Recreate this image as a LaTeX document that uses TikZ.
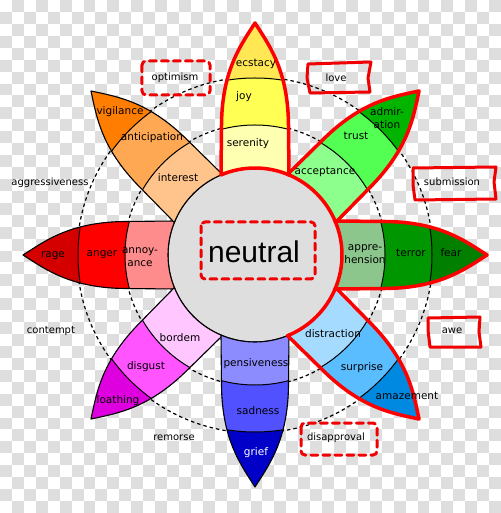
\documentclass[tikz,border=0pt]{standalone}
\usepackage{fontspec}
\setmainfont{DejaVu Sans}
\newfontfamily\neutralfont{Liberation Sans}
\definecolor{chk}{HTML}{DEDEDE}
\definecolor{hubgray}{HTML}{DEDEDE}
\definecolor{cSer}{HTML}{FFFFB1}\definecolor{cJoy}{HTML}{FFFF54}\definecolor{cEcs}{HTML}{FFE854}
\definecolor{cAcc}{HTML}{8CFF8C}\definecolor{cTru}{HTML}{54FF54}\definecolor{cAdm}{HTML}{00B400}
\definecolor{cApp}{HTML}{8CC68C}\definecolor{cTer}{HTML}{009600}\definecolor{cFea}{HTML}{007F00}
\definecolor{cDis}{HTML}{A5DBFF}\definecolor{cSur}{HTML}{59BDFF}\definecolor{cAma}{HTML}{0089E0}
\definecolor{cPen}{HTML}{8C8CFF}\definecolor{cSad}{HTML}{5151FF}\definecolor{cGri}{HTML}{0000C8}
\definecolor{cBor}{HTML}{FFC6FF}\definecolor{cDig}{HTML}{FF54FF}\definecolor{cLoa}{HTML}{DE00DE}
\definecolor{cAnn}{HTML}{FF8C8C}\definecolor{cAng}{HTML}{FF0000}\definecolor{cRag}{HTML}{D40000}
\definecolor{cInt}{HTML}{FFC48C}\definecolor{cAnt}{HTML}{FFA854}\definecolor{cVig}{HTML}{FF7D00}
\definecolor{annred}{HTML}{F00000}
\def\petalpath{(80.08,-34) -- (130,-33.5) .. controls (185,-33) and (210,-14) .. (232,0) .. controls (210,14) and (185,33) .. (130,33.5) -- (80.08,34) arc[start angle=23, end angle=-23, radius=87pt] -- cycle}
\begin{document}
\begin{tikzpicture}[x=1pt,y=1pt,
  lbl/.style={font=\fontsize{10.5}{12.5}\selectfont, inner sep=0pt, align=center},
  outer/.style={font=\fontsize{10}{12}\selectfont, inner sep=0pt},
  annot/.style={draw=annred, line width=3pt, line join=round, line cap=round},
  annotdash/.style={annot, dash pattern=on 7pt off 5pt, rounded corners=4pt},
  ring/.style={line width=1.2pt, dash pattern=on 3.5pt off 3pt}]
\useasboundingbox (-255,-258) rectangle (245,255);
\fill[white] (-255,-258) rectangle (245,255);
\foreach \i in {0,2,...,40}{\foreach \j in {1,3,...,43}{%
    \fill[chk] ({\i*11.93-255},{255-\j*11.93}) rectangle ++(11.93,-11.93);}}
\foreach \i in {1,3,...,41}{\foreach \j in {0,2,...,42}{%
    \fill[chk] ({\i*11.93-255},{255-\j*11.93}) rectangle ++(11.93,-11.93);}}
% dashed rings
\draw[ring] (0,0) circle[radius=131pt];
\draw[ring] (0,0) circle[radius=178pt];
% hub
\node[circle, draw, line width=1.1pt, fill=hubgray, minimum size=174pt, inner sep=0pt] (hub) at (0,0) {};
% petals
\foreach \ang/\ci/\cm/\co/\oc/\ow in {180/cAnn/cAng/cRag/black/1.1pt, 135/cInt/cAnt/cVig/black/1.1pt, -135/cBor/cDig/cLoa/black/1.1pt, -90/cPen/cSad/cGri/black/1.1pt, 90/cSer/cJoy/cEcs/red/3.5pt, 45/cAcc/cTru/cAdm/red/3.5pt, 0/cApp/cTer/cFea/red/3.5pt, -45/cDis/cSur/cAma/red/3.5pt}{
  \begin{scope}[rotate=\ang]
    \begin{scope}
      \clip \petalpath;
      \fill[\co] (-300,-300) rectangle (300,300);
      \fill[\cm] (0,0) circle[radius=177pt];
      \fill[\ci] (0,0) circle[radius=130pt];
      \draw[line width=1pt] (0,0) circle[radius=130pt] (0,0) circle[radius=177pt];
    \end{scope}
    \draw[draw=\oc, line width=\ow, line join=round] \petalpath;
  \end{scope}
}
% petal labels
\node[lbl] (ecs) at (1,191) {ecstacy};
\node[lbl] (joy) at (-11,158) {joy};
\node[lbl] (ser) at (-7,111) {serenity};
\node[lbl] (adm) at (132,137) {admir-\\ation};
\node[lbl] (tru) at (101,119) {trust};
\node[lbl] (acc) at (70,83) {acceptance};
\node[lbl] (app) at (110,1) {appre-\\hension};
\node[lbl] (ter) at (156,2) {terror};
\node[lbl] (fea) at (196,2) {fear};
\node[lbl] (dis) at (78,-79) {distraction};
\node[lbl] (sur) at (107,-113) {surprise};
\node[lbl] (ama) at (152,-141) {amazement};
\node[lbl] (pen) at (1,-109) {pensiveness};
\node[lbl] (sad) at (3,-156) {sadness};
\node[lbl, text=white] (gri) at (1,-198) {grief};
\node[lbl] (bor) at (-75,-83) {bordem};
\node[lbl] (dig) at (-109,-112) {disgust};
\node[lbl] (loa) at (-137,-146) {loathing};
\node[lbl] (rag) at (-202,-1) {rage};
\node[lbl] (ang) at (-153,0) {anger};
\node[lbl] (ann) at (-115,-2) {annoy-\\ance};
\node[lbl] (vig) at (-135,143) {vigilance};
\node[lbl] (ant) at (-103,117) {anticipation};
\node[lbl] (int) at (-77,77) {interest};
\node[anchor=base, inner sep=0pt, font=\neutralfont\fontsize{30}{32}\selectfont] (neu) at (-1,-8) {neutral};
% outer labels
\node[outer] (opt) at (-80,177) {optimism};
\node[outer] (lov) at (81,177) {love};
\node[outer] (sub) at (197,73) {submission};
\node[outer] (awe) at (197,-76) {awe};
\node[outer] (dsp) at (81,-183) {disapproval};
\node[outer] (rem) at (-81,-183) {remorse};
\node[outer] (con) at (-204,-76) {contempt};
\node[outer] (agg) at (-205,72) {aggressiveness};
% red annotations
\draw[annotdash] (-113,194) rectangle (-45,160);
\draw[annotdash] (46,-168) rectangle (122,-200);
\draw[annotdash] (-54,33) rectangle (60,-24);
\draw[annot] (53,191) -- (116,193) -- (113,177) -- (115,163) -- (55,162) -- (52,177) -- cycle;
\draw[annot] (158,87) -- (241,88) -- (239,73) -- (241,56) -- (160,55) -- (158,70) -- cycle;
\draw[annot] (173,-63) -- (225,-62) -- (224,-77) -- (226,-92) -- (175,-92) -- (173,-75) -- cycle;
\end{tikzpicture}
\end{document}
